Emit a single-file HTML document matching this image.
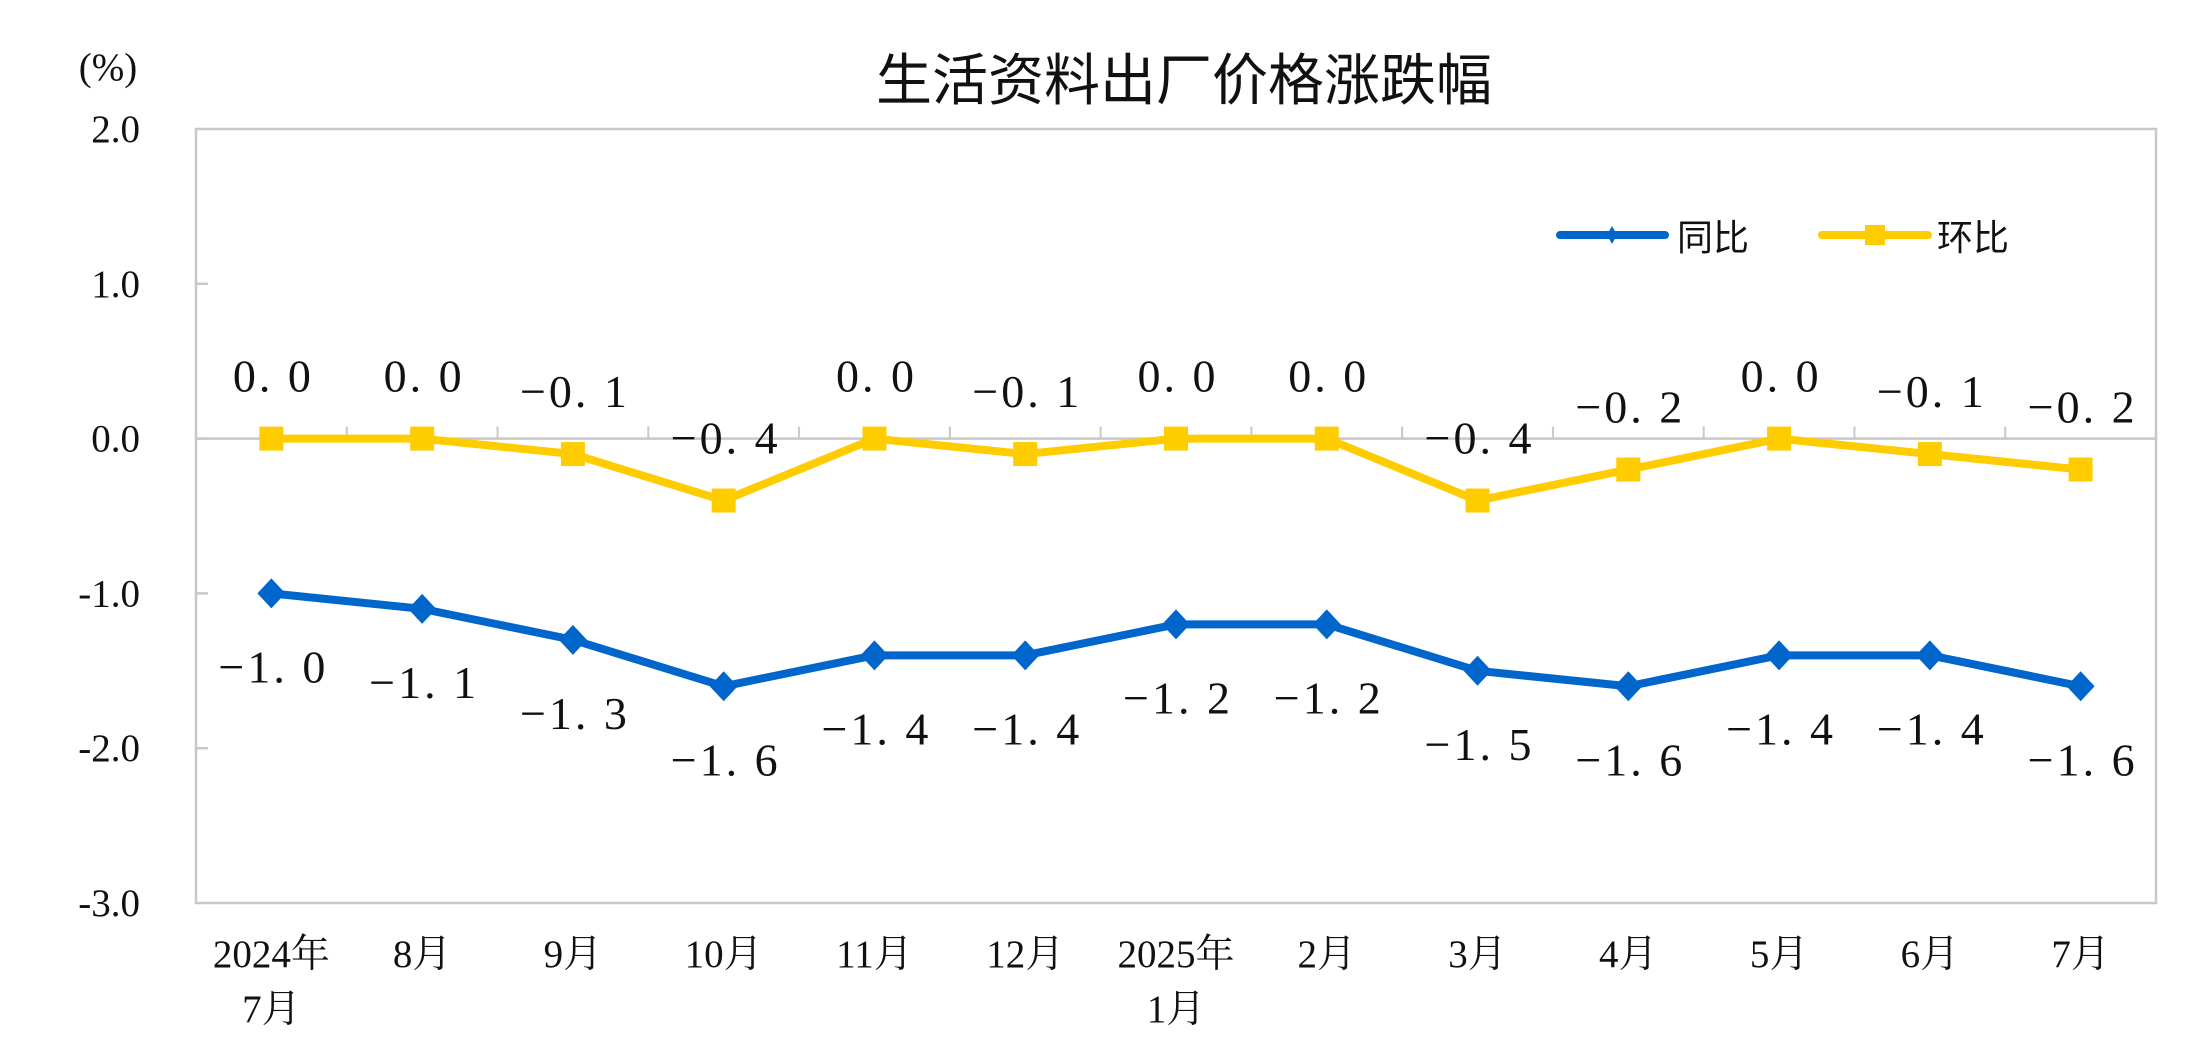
<!DOCTYPE html>
<html><head><meta charset="utf-8"><style>
html,body{margin:0;padding:0;background:#fff;}
svg{display:block;}
.dl{font-family:"Liberation Serif","Noto Serif CJK SC",serif;font-size:46px;fill:#111;letter-spacing:3px;}
.ax{font-family:"Liberation Serif","Noto Serif CJK SC",serif;font-size:39px;fill:#111;}
</style></head><body>
<svg id="chart" width="2210" height="1060" viewBox="0 0 2210 1060" xmlns="http://www.w3.org/2000/svg">
<text x="1184" y="100" text-anchor="middle" font-family="'Liberation Sans','Noto Sans CJK SC',sans-serif" font-size="56" fill="#111">生活资料出厂价格涨跌幅</text>
<text x="108" y="80" text-anchor="middle" class="ax" font-size="36">(%)</text>
<rect x="196" y="129" width="1960" height="774" fill="none" stroke="#c8c8c8" stroke-width="2.5"/>
<g id="yaxis"></g><g id="xaxis"></g><g id="series"></g>
<g>
<g>
<line x1="1560" y1="235" x2="1665" y2="235" stroke="#0066CC" stroke-width="8" stroke-linecap="round"/>
<polygon points="1612,226 1617,235 1612,244 1607,235" fill="#0066CC"/>
<text x="1677" y="250" font-family="'Liberation Sans','Noto Sans CJK SC',sans-serif" font-size="36" fill="#111">同比</text>
</g>
<g>
<line x1="1822" y1="235" x2="1928" y2="235" stroke="#FFCC00" stroke-width="8" stroke-linecap="round"/>
<rect x="1865" y="225" width="20" height="20" fill="#FFCC00"/>
<text x="1937" y="250" font-family="'Liberation Sans','Noto Sans CJK SC',sans-serif" font-size="36" fill="#111">环比</text>
</g>
</g>
</svg>
<script>
const categories=[["2024年","7月"],["8月"],["9月"],["10月"],["11月"],["12月"],["2025年","1月"],["2月"],["3月"],["4月"],["5月"],["6月"],["7月"]];
const yoyValues=[-1.0,-1.1,-1.3,-1.6,-1.4,-1.4,-1.2,-1.2,-1.5,-1.6,-1.4,-1.4,-1.6];
const momValues=[0.0,0.0,-0.1,-0.4,0.0,-0.1,0.0,0.0,-0.4,-0.2,0.0,-0.1,-0.2];
const yTicks=[2.0,1.0,0.0,-1.0,-2.0,-3.0];
const NS="http://www.w3.org/2000/svg";
const L=196,R=2156,T=129,B=903,YMAX=2,YMIN=-3;
const bw=(R-L)/categories.length;
function x(i){return L+bw*(i+0.5);}
function y(v){return T+(YMAX-v)/(YMAX-YMIN)*(B-T);}
function mk(tag,attrs,parent){const e=document.createElementNS(NS,tag);for(const k in attrs)e.setAttribute(k,attrs[k]);parent.appendChild(e);return e;}
const ya=document.getElementById('yaxis'),xa=document.getElementById('xaxis'),sg=document.getElementById('series');
yTicks.forEach(v=>{
  const t=mk('text',{x:140,y:y(v)+13,'text-anchor':'end',class:'ax'},ya);
  
  
  t.textContent=v.toFixed(1);
  if(v<YMAX&&v>YMIN){const tk=mk('line',{x1:L,x2:L+12,y1:y(v),y2:y(v),stroke:'#c8c8c8','stroke-width':2.5},ya);
  
  }
});
const zl=mk('line',{x1:L,x2:R,y1:y(0),y2:y(0),stroke:'#c8c8c8','stroke-width':2.5},xa);


for(let i=1;i<categories.length;i++){
  const tk=mk('line',{x1:L+bw*i,x2:L+bw*i,y1:y(0),y2:y(0)-12,stroke:'#c8c8c8','stroke-width':2},xa);
  
  
}
categories.forEach((c,i)=>{
  c.forEach((s,j)=>{
    const t=mk('text',{x:x(i),y:967+j*55,'text-anchor':'middle',class:'ax'},xa);
    
    
    t.textContent=s;
  });
});
function line(vals,color,name){
  const p=mk('polyline',{points:vals.map((v,i)=>x(i)+','+y(v)).join(' '),fill:'none',stroke:color,'stroke-width':8,'stroke-linejoin':'round'},sg);
  
  
}
line(momValues,'#FFCC00','mom-line');
line(yoyValues,'#0066CC','yoy-line');
momValues.forEach((v,i)=>{
  const r=mk('rect',{x:x(i)-12,y:y(v)-12,width:24,height:24,fill:'#FFCC00'},sg);
  
  
  const t=mk('text',{x:x(i)+2,y:y(v)-47,'text-anchor':'middle',class:'dl'},sg);
  
  
  t.textContent=(v===0?'0.0':v.toFixed(1).replace('-','−')).replace('.','. ');
});
yoyValues.forEach((v,i)=>{
  const cx=x(i),cy=y(v);
  const d=mk('polygon',{points:`${cx},${cy-15} ${cx+14},${cy} ${cx},${cy+15} ${cx-14},${cy}`,fill:'#0066CC'},sg);
  
  
  const t=mk('text',{x:cx+2,y:cy+89,'text-anchor':'middle',class:'dl'},sg);
  
  
  t.textContent=v.toFixed(1).replace('-','−').replace('.','. ');
});
</script>
</body></html>
